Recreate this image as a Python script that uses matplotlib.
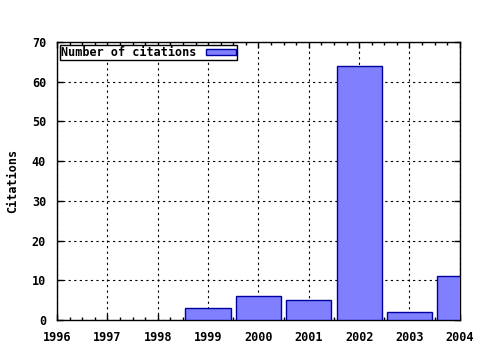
import matplotlib.pyplot as plt
from matplotlib.ticker import MultipleLocator

# citations per year
years = [1999, 2000, 2001, 2002, 2003, 2004]
citations = [3, 6, 5, 64, 2, 11]
xtick_years = [1996, 1997, 1998, 1999, 2000, 2001, 2002, 2003, 2004]

plt.rcParams['font.family'] = 'DejaVu Sans Mono'
plt.rcParams['font.weight'] = 'bold'
plt.rcParams['font.size'] = 8.5

fig = plt.figure(figsize=(4.8, 3.5), dpi=100)
ax = fig.add_axes([0.119, 0.086, 0.839, 0.794])

ax.bar(years, citations, width=0.9, color='#8080ff', edgecolor='#0000a0',
       linewidth=1, label='Number of citations', zorder=3)

ax.set_xlim(1996, 2004)
ax.set_ylim(0, 70)
ax.set_xticks(xtick_years)
ax.set_xticklabels([str(y) for y in xtick_years])
ax.xaxis.set_minor_locator(MultipleLocator(0.25))
ax.yaxis.set_major_locator(MultipleLocator(10))
ax.tick_params(direction='in', top=True, right=True, length=4, width=1)
ax.tick_params(axis='x', pad=8)
ax.tick_params(axis='y', pad=8)
ax.tick_params(which='minor', direction='in', top=True, length=2, width=1)
ax.grid(True, linestyle=(0, (2, 3)), color='black', linewidth=0.8, zorder=0)
ax.set_ylabel('Citations', fontweight='bold', labelpad=9)
for s in ax.spines.values():
    s.set_linewidth(1)

leg = ax.legend(loc='upper left', markerfirst=False, fancybox=False,
                edgecolor='black', framealpha=1, borderaxespad=0.25,
                borderpad=0.1, handlelength=2.5, handleheight=0.5,
                prop={'family': 'DejaVu Sans Mono', 'weight': 'bold', 'size': 8.5})
leg.get_frame().set_linewidth(1)

fig.savefig('out.png', dpi=100)
